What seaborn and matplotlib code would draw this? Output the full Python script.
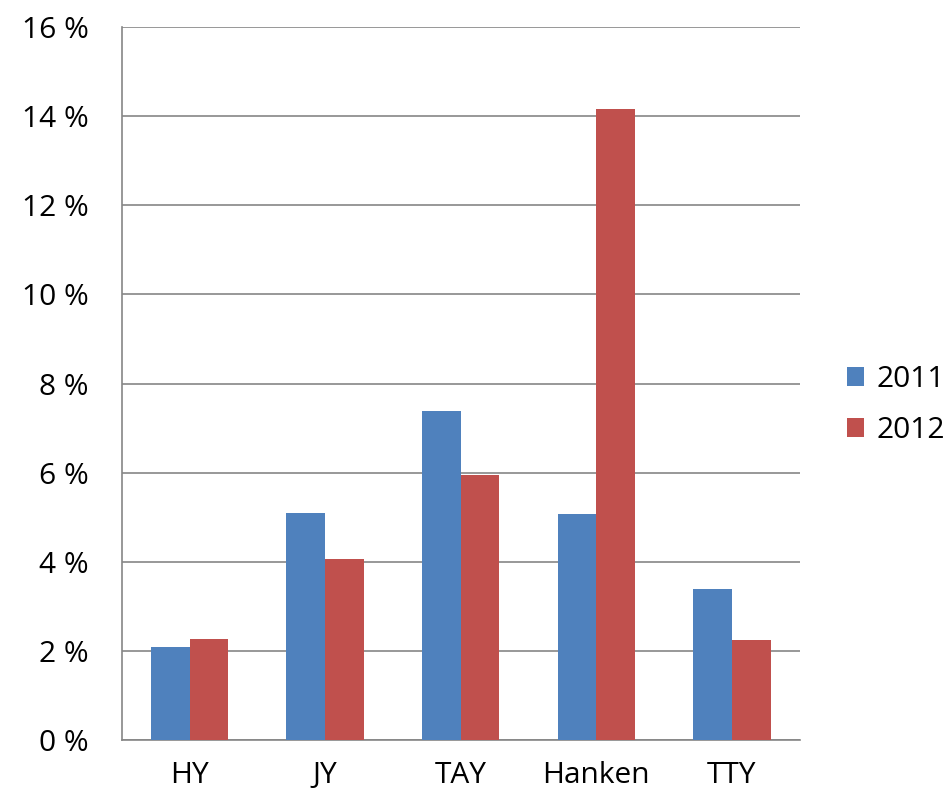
import numpy as np
import pandas as pd
import seaborn as sns
import matplotlib.pyplot as plt
from matplotlib.ticker import FixedLocator

# ── Data ──────────────────────────────────────────────────────────────────────
schools  = ["HY", "JY", "TAY", "Hanken", "TTY"]
years    = ["2011", "2012"]
vals2011 = [2.1, 5.1, 7.38, 5.07, 3.39]
vals2012 = [2.27, 4.06, 5.95, 14.16, 2.24]
yticks   = [0, 2, 4, 6, 8, 10, 12, 14, 16]

df = pd.DataFrame({
    "school": schools * 2,
    "year":   [years[0]] * len(schools) + [years[1]] * len(schools),
    "value":  vals2011 + vals2012,
})

sns.set_style("white")
plt.rcParams["font.family"] = ["Open Sans", "DejaVu Sans"]
plt.rcParams["text.color"] = "black"
plt.rcParams["xtick.labelcolor"] = "black"
plt.rcParams["ytick.labelcolor"] = "black"

fig = plt.figure(figsize=(9.51, 7.95), dpi=100)
ax = fig.add_axes([0.128, 0.069, 0.713, 0.897])

sns.barplot(data=df, x="school", y="value", hue="year",
            palette=["#4F81BD", "#C0504D"], width=0.57, saturation=1,
            linewidth=0, ax=ax, zorder=3)

# ── Axes styling ──────────────────────────────────────────────────────────────
ax.set_xlim(-0.5, len(schools) - 0.5)
ax.set_ylim(0, 16)
ax.set_yticks(yticks)
ax.set_yticklabels([f"{t} %" for t in yticks], fontsize=21.5)
ax.set_xticklabels(schools, fontsize=21.5)
ax.set_xlabel(""); ax.set_ylabel("")

ax.grid(axis="y", color="#868686", linewidth=1.2, zorder=0)
for s in ["top", "right"]:
    ax.spines[s].set_visible(False)
for s in ["left", "bottom"]:
    ax.spines[s].set_color("#868686")
    ax.spines[s].set_linewidth(1.2)

ax.tick_params(axis="y", length=10, color="#868686", width=1.2, pad=14)
ax.tick_params(axis="x", which="major", length=0, pad=15)
ax.xaxis.set_minor_locator(FixedLocator(np.arange(-0.5, len(schools), 1)))
ax.tick_params(axis="x", which="minor", length=7, color="#868686", width=1.2)

handles, labels = ax.get_legend_handles_labels()
ax.legend(handles, labels, loc="center left", bbox_to_anchor=(1.069, 0.47),
          frameon=False, fontsize=21.5, handlelength=0.6, handleheight=0.6,
          labelspacing=0.75, handletextpad=0.4, borderpad=0, borderaxespad=0)

plt.savefig("out.png", dpi=100)
